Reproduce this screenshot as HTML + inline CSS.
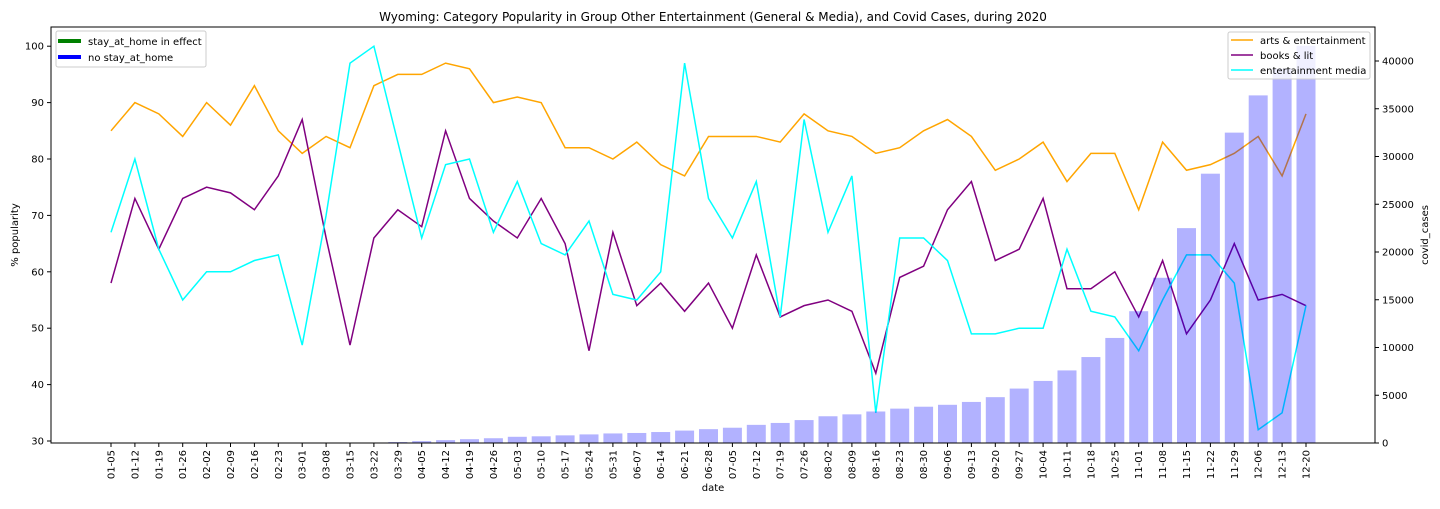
<!DOCTYPE html>
<html><head><meta charset="utf-8"><style>
body{margin:0;background:#fff;font-family:"Liberation Sans","DejaVu Sans",sans-serif;}
svg text{font-family:"DejaVu Sans","Liberation Sans",sans-serif;}
</style></head><body>
<svg id="chart" width="1440" height="504" xmlns="http://www.w3.org/2000/svg"></svg>
<script>
const dates=["01-05","01-12","01-19","01-26","02-02","02-09","02-16","02-23","03-01","03-08","03-15","03-22","03-29","04-05","04-12","04-19","04-26","05-03","05-10","05-17","05-24","05-31","06-07","06-14","06-21","06-28","07-05","07-12","07-19","07-26","08-02","08-09","08-16","08-23","08-30","09-06","09-13","09-20","09-27","10-04","10-11","10-18","10-25","11-01","11-08","11-15","11-22","11-29","12-06","12-13","12-20"];
const arts=[85,90,88,84,90,86,93,85,81,84,82,93,95,95,97,96,90,91,90,82,82,80,83,79,77,84,84,84,83,88,85,84,81,82,85,87,84,78,80,83,76,81,81,71,83,78,79,81,84,77,88];
const books=[58,73,64,73,75,74,71,77,87,66,47,66,71,68,85,73,69,66,73,65,46,67,54,58,53,58,50,63,52,54,55,53,42,59,61,71,76,62,64,73,57,57,60,52,62,49,55,65,55,56,54];
const media=[67,80,64,55,60,60,62,63,47,70,97,100,83,66,79,80,67,76,65,63,69,56,55,60,97,73,66,76,52,87,67,77,35,66,66,62,49,49,50,50,64,53,52,46,55,63,63,58,32,35,54];
const cases=[0,0,0,0,0,0,0,0,0,0,0,0,100,200,300,400,500,650,700,800,900,1000,1050,1150,1300,1450,1600,1900,2100,2400,2800,3000,3300,3600,3800,4000,4300,4800,5700,6500,7600,9000,11000,13800,17300,22500,28200,32500,36400,39200,41600];
const leftTicks=[30,40,50,60,70,80,90,100];
const rightTicks=[0,5000,10000,15000,20000,25000,30000,35000,40000];

const L=51,R=1375,T=27,B=443;
const NS="http://www.w3.org/2000/svg";
const svg=document.getElementById('chart');
function x(i){return 111+i*(1195/(dates.length-1));}
function yL(v){return 441-(v-30)*5.64;}
function yR(v){return 443-v*(382/40000);}
function el(tag,attrs,parent){const e=document.createElementNS(NS,tag);for(const k in attrs)e.setAttribute(k,attrs[k]);(parent||svg).appendChild(e);return e;}
function txt(s,attrs){const t=el('text',attrs);t.textContent=s;return t;}

function line(data,color,name){
  const p=el('polyline',{points:data.map((v,i)=>x(i)+','+yL(v)).join(' '),fill:'none',stroke:color,'stroke-width':1.5});
  
  
}
line(arts,'#ffa500','arts-entertainment-line');
line(books,'#800080','books-lit-line');
line(media,'#00ffff','entertainment-media-line');
cases.forEach((v,i)=>{
  if(v<=0)return;
  const r=el('rect',{x:x(i)-9.5,y:yR(v),width:19,height:B-yR(v),fill:'rgba(0,0,255,0.3)'});
  
  
});
const fr=el('rect',{x:L,y:T,width:R-L,height:B-T,fill:'none',stroke:'#000','stroke-width':1});


dates.forEach((d,i)=>{
  el('line',{x1:x(i),x2:x(i),y1:B,y2:B+4,stroke:'#000'});
  const t=txt(d,{x:0,y:0,'font-size':10,'text-anchor':'end',transform:`translate(${x(i)+3.5},${B+7}) rotate(-90)`});
  
  
});
leftTicks.forEach(v=>{
  el('line',{x1:L-4,x2:L,y1:yL(v),y2:yL(v),stroke:'#000'});
  const t=txt(v,{x:L-7,y:yL(v)+3.5,'font-size':10,'text-anchor':'end'});
  
  
});
rightTicks.forEach(v=>{
  el('line',{x1:R,x2:R+4,y1:yR(v),y2:yR(v),stroke:'#000'});
  const t=txt(v,{x:R+7,y:yR(v)+3.5,'font-size':10,'text-anchor':'start'});
  
  
});
let t;
t=txt('Wyoming: Category Popularity in Group Other Entertainment (General & Media), and Covid Cases, during 2020',{x:713,y:21,'font-size':12,'text-anchor':'middle'});

t=txt('date',{x:713,y:491,'font-size':10,'text-anchor':'middle'});

t=txt('% popularity',{x:0,y:0,'font-size':10,'text-anchor':'middle',transform:'translate(18,235) rotate(-90)'});

t=txt('covid_cases',{x:0,y:0,'font-size':10,'text-anchor':'middle',transform:'translate(1428,235) rotate(-90)'});

const lg1=el('g',{});

el('rect',{x:56,y:31,width:150,height:36,rx:2,fill:'rgba(255,255,255,0.8)',stroke:'#ccc'},lg1);
el('line',{x1:58,x2:81,y1:41,y2:41,stroke:'green','stroke-width':4},lg1);
el('line',{x1:58,x2:81,y1:57,y2:57,stroke:'blue','stroke-width':4},lg1);
let e=el('text',{x:88,y:45,'font-size':10},lg1);e.textContent='stay_at_home in effect';
e=el('text',{x:88,y:61,'font-size':10},lg1);e.textContent='no stay_at_home';
const lg2=el('g',{});

el('rect',{x:1228,y:32,width:142,height:47,rx:2,fill:'rgba(255,255,255,0.8)',stroke:'#ccc'},lg2);
[['arts & entertainment','#ffa500'],['books & lit','#800080'],['entertainment media','#00ffff']].forEach((a,k)=>{
  el('line',{x1:1231,x2:1253,y1:40+k*15,y2:40+k*15,stroke:a[1],'stroke-width':1.5},lg2);
  const tt=el('text',{x:1260,y:44+k*15,'font-size':10},lg2);tt.textContent=a[0];
});
</script>
</body></html>
